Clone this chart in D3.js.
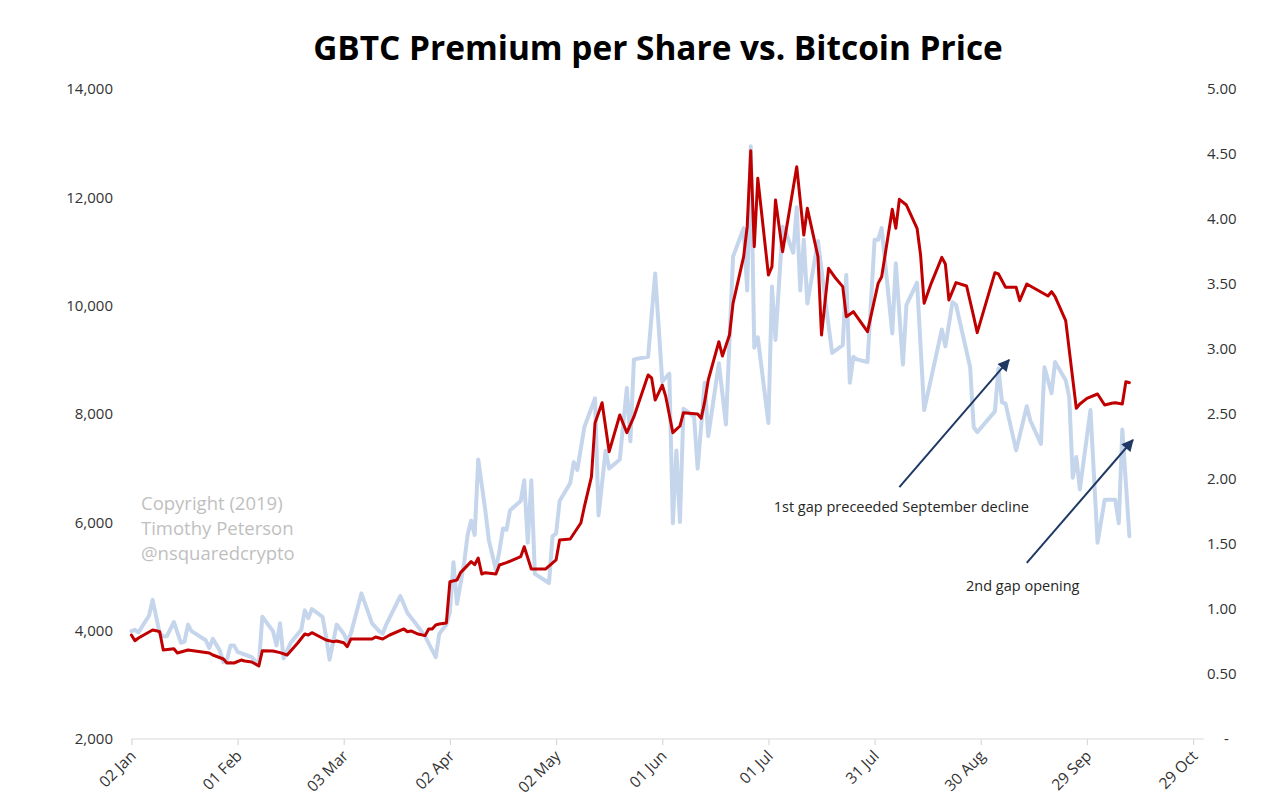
<!DOCTYPE html>
<html>
<head>
<meta charset="utf-8">
<script src="https://cdn.jsdelivr.net/npm/d3@7"></script>
<style>
  html, body { margin: 0; padding: 0; background: #ffffff; }
  svg { display: block; }
  text { font-family: "Open Sans", "Noto Sans", sans-serif; }
</style>
</head>
<body>
<svg id="chart" width="1279" height="806"></svg>
<script>
// ---------------- DATA ----------------
const titleText = "GBTC Premium per Share vs. Bitcoin Price";

const xTickDates = ["2019-01-02","2019-02-01","2019-03-03","2019-04-02","2019-05-02","2019-06-01",
                    "2019-07-01","2019-07-31","2019-08-30","2019-09-29","2019-10-29"];
const leftTicks  = [2000, 4000, 6000, 8000, 10000, 12000, 14000];
const rightTicks = [0, 0.5, 1, 1.5, 2, 2.5, 3, 3.5, 4, 4.5, 5];

// Bitcoin price (left axis, red)
const btcDates = [
 "2019-01-02","2019-01-03","2019-01-04","2019-01-08","2019-01-09","2019-01-10","2019-01-11","2019-01-14","2019-01-15","2019-01-18",
 "2019-01-20","2019-01-24","2019-01-25","2019-01-28","2019-01-29","2019-01-30","2019-01-31","2019-02-02","2019-02-03","2019-02-05",
 "2019-02-07","2019-02-08","2019-02-11","2019-02-13","2019-02-15","2019-02-18","2019-02-20","2019-02-21","2019-02-22","2019-02-26",
 "2019-02-28","2019-03-01","2019-03-03","2019-03-04","2019-03-05","2019-03-11","2019-03-12","2019-03-14","2019-03-16","2019-03-20",
 "2019-03-21","2019-03-22","2019-03-24","2019-03-26","2019-03-27","2019-03-28","2019-03-29","2019-03-30","2019-04-01","2019-04-02",
 "2019-04-04","2019-04-05","2019-04-08","2019-04-09","2019-04-10","2019-04-11","2019-04-12","2019-04-15","2019-04-16","2019-04-18",
 "2019-04-22","2019-04-23","2019-04-25","2019-04-29","2019-05-02","2019-05-03","2019-05-06","2019-05-09","2019-05-10","2019-05-12",
 "2019-05-13","2019-05-15","2019-05-17","2019-05-20","2019-05-22","2019-05-24","2019-05-28","2019-05-29","2019-05-30","2019-06-01",
 "2019-06-02","2019-06-04","2019-06-06","2019-06-07","2019-06-11","2019-06-12","2019-06-13","2019-06-14","2019-06-17","2019-06-18",
 "2019-06-20","2019-06-21","2019-06-24","2019-06-25","2019-06-26","2019-06-27","2019-06-28","2019-07-01","2019-07-02","2019-07-03",
 "2019-07-05","2019-07-09","2019-07-11","2019-07-12","2019-07-15","2019-07-16","2019-07-18","2019-07-20","2019-07-22","2019-07-23",
 "2019-07-25","2019-07-29","2019-08-01","2019-08-02","2019-08-05","2019-08-06","2019-08-07","2019-08-09","2019-08-12","2019-08-13",
 "2019-08-14","2019-08-16","2019-08-19","2019-08-20","2019-08-21","2019-08-23","2019-08-26","2019-08-28","2019-08-29","2019-09-03",
 "2019-09-04","2019-09-06","2019-09-09","2019-09-10","2019-09-12","2019-09-15","2019-09-18","2019-09-19","2019-09-20","2019-09-23",
 "2019-09-26","2019-09-27","2019-09-29","2019-10-02","2019-10-04","2019-10-06","2019-10-07","2019-10-09","2019-10-10","2019-10-11"
];
const btcValues = [
 3920,3815,3865,4012,4000,3980,3643,3667,3588,3643,
 3625,3588,3551,3477,3403,3409,3403,3458,3440,3422,
 3348,3631,3625,3594,3551,3772,3938,3920,3963,3828,
 3797,3809,3778,3705,3846,3846,3883,3846,3920,4031,
 3980,3994,3938,3908,4031,4031,4105,4123,4142,4904,
 4935,5071,5274,5218,5342,5046,5071,5046,5212,5255,
 5366,5550,5138,5138,5305,5674,5692,5988,6289,6843,
 7834,8209,7304,7982,7655,7950,8720,8665,8258,8535,
 8320,7655,7778,8025,8000,7920,8228,8628,9335,9071,
 9458,10043,10905,11458,12862,11089,12351,10566,10720,11951,
 10997,12566,11305,11797,10905,9458,10689,10505,10351,9797,
 9889,9520,10412,10535,11779,11428,11963,11858,11428,10935,
 10043,10412,10892,10769,10105,10425,10363,9797,9502,10609,
 10585,10339,10339,10092,10400,10289,10178,10258,10166,9723,
 8105,8185,8289,8369,8166,8197,8209,8185,8597,8578
];

// GBTC premium per share (right axis, light blue)
const premDates = [
 "2019-01-02","2019-01-03","2019-01-04","2019-01-07","2019-01-08","2019-01-10","2019-01-11","2019-01-12","2019-01-14","2019-01-16",
 "2019-01-17","2019-01-18","2019-01-19","2019-01-23","2019-01-24","2019-01-25","2019-01-27","2019-01-28","2019-01-29","2019-01-30",
 "2019-01-31","2019-02-01","2019-02-03","2019-02-05","2019-02-07","2019-02-08","2019-02-11","2019-02-12","2019-02-13","2019-02-14",
 "2019-02-16","2019-02-19","2019-02-20","2019-02-21","2019-02-22","2019-02-25","2019-02-26","2019-02-27","2019-03-01","2019-03-03",
 "2019-03-04","2019-03-05","2019-03-08","2019-03-11","2019-03-13","2019-03-14","2019-03-15","2019-03-19","2019-03-21","2019-03-23",
 "2019-03-26","2019-03-29","2019-03-30","2019-04-01","2019-04-02","2019-04-03","2019-04-04","2019-04-06","2019-04-07","2019-04-08",
 "2019-04-09","2019-04-10","2019-04-12","2019-04-13","2019-04-15","2019-04-16","2019-04-17","2019-04-18","2019-04-19","2019-04-22",
 "2019-04-23","2019-04-24","2019-04-25","2019-04-26","2019-04-30","2019-05-01","2019-05-02","2019-05-03","2019-05-06","2019-05-07",
 "2019-05-08","2019-05-10","2019-05-13","2019-05-14","2019-05-16","2019-05-17","2019-05-20","2019-05-22","2019-05-23","2019-05-24",
 "2019-05-28","2019-05-30","2019-06-01","2019-06-03","2019-06-04","2019-06-05","2019-06-06","2019-06-07","2019-06-10","2019-06-11",
 "2019-06-13","2019-06-14","2019-06-17","2019-06-19","2019-06-21","2019-06-24","2019-06-25","2019-06-26","2019-06-27","2019-06-28",
 "2019-07-01","2019-07-02","2019-07-03","2019-07-05","2019-07-06","2019-07-08","2019-07-09","2019-07-10","2019-07-11","2019-07-12",
 "2019-07-15","2019-07-17","2019-07-19","2019-07-22","2019-07-23","2019-07-24","2019-07-25","2019-07-26","2019-07-29","2019-07-31",
 "2019-08-01","2019-08-02","2019-08-05","2019-08-06","2019-08-08","2019-08-09","2019-08-12","2019-08-14","2019-08-19","2019-08-20",
 "2019-08-22","2019-08-23","2019-08-27","2019-08-28","2019-08-29","2019-09-03","2019-09-04","2019-09-05","2019-09-06","2019-09-09",
 "2019-09-12","2019-09-13","2019-09-16","2019-09-17","2019-09-19","2019-09-20","2019-09-23","2019-09-24","2019-09-25","2019-09-26",
 "2019-09-27","2019-09-30","2019-10-02","2019-10-04","2019-10-07","2019-10-08","2019-10-09","2019-10-11"
];
const premValues = [
 0.83,0.84,0.82,0.95,1.07,0.81,0.79,0.79,0.90,0.74,
 0.75,0.88,0.83,0.76,0.70,0.77,0.68,0.59,0.61,0.72,
 0.72,0.67,0.65,0.63,0.57,0.94,0.83,0.72,0.89,0.62,
 0.74,0.84,0.99,0.93,1.00,0.94,0.79,0.61,0.88,0.81,
 0.75,0.81,1.12,0.89,0.83,0.81,0.88,1.10,0.97,0.90,
 0.79,0.63,0.81,0.88,0.98,1.36,1.04,1.35,1.57,1.68,
 1.57,2.15,1.76,1.53,1.30,1.45,1.62,1.61,1.76,1.83,
 1.99,1.51,1.99,1.27,1.20,1.56,1.58,1.83,1.97,2.13,
 2.07,2.40,2.62,1.72,2.22,2.08,2.15,2.70,2.29,2.92,
 2.94,3.58,2.75,2.81,1.66,2.22,1.67,2.54,2.48,2.08,
 2.74,2.33,2.89,2.42,3.71,3.93,3.45,4.56,3.01,3.09,
 2.43,3.48,3.07,3.94,3.89,3.74,4.09,3.45,3.84,3.35,
 3.83,3.39,2.97,3.03,3.57,2.74,2.94,2.92,2.90,3.84,
 3.84,3.93,3.12,3.66,2.88,3.34,3.51,2.53,3.15,3.02,
 3.36,3.34,2.86,2.40,2.36,2.52,2.85,2.59,2.58,2.22,
 2.56,2.45,2.27,2.86,2.66,2.90,2.76,2.63,2.01,2.17,
 1.92,2.53,1.51,1.84,1.84,1.66,2.38,1.56
];

const copyrightLines = ["Copyright (2019)", "Timothy Peterson", "@nsquaredcrypto"];

// annotation arrows (date, bitcoin-price-axis value)
const annotationTexts = ["1st gap preceeded September decline", "2nd gap opening"];
const arrowStartDates = ["2019-08-07", "2019-09-12"];
const arrowStartValues = [6650, 5250];
const arrowEndDates = ["2019-09-07", "2019-10-12"];
const arrowEndValues = [9000, 7520];
const annotationTextValues = [6200, 4730];

// ---------------- CHART ----------------
const parse = d3.utcParse("%Y-%m-%d");
const svg = d3.select("#chart");

const x = d3.scaleUtc()
  .domain([parse("2019-01-02"), parse("2019-11-01")])
  .range([131.4, 131.4 + 303 * 3.539]);
const yL = d3.scaleLinear().domain([2000, 14000]).range([739, 89]);
const yR = d3.scaleLinear().domain([0, 5]).range([739, 89]);

const textColor = "#333333";

// Title
const title = svg.append("text")
  .attr("x", 658).attr("y", 60)
  .attr("text-anchor", "middle")
  .attr("font-size", 30).attr("font-weight", 700)
  .attr("fill", "#000")
  .text(titleText);
{
  const w = title.node().getComputedTextLength();
  title.attr("font-size", 30 * 690 / w);
}

// X axis
const xAxis = d3.axisBottom(x)
  .tickValues(xTickDates.map(parse))
  .tickSize(6)
  .tickFormat(d3.utcFormat("%d %b"));
const gx = svg.append("g").attr("transform", "translate(0,739)").call(xAxis);
gx.select(".domain").attr("stroke", "#d9d9d9").attr("stroke-width", 1.2)
  .attr("d", `M${x.range()[0]},0H${x.range()[1]}`);
gx.selectAll(".tick line").attr("stroke", "#d9d9d9").attr("stroke-width", 1.2);
gx.selectAll(".tick text")
  .attr("font-size", 15.5).attr("fill", textColor)
  .attr("font-family", "'Open Sans', sans-serif")
  .attr("text-anchor", "end")
  .attr("dy", null).attr("y", 0)
  .attr("transform", "translate(5,18) rotate(-45)");

// Left axis labels
svg.append("g").selectAll("text").data(leftTicks).join("text")
  .attr("x", 113).attr("y", d => yL(d)).attr("dy", "0.35em")
  .attr("text-anchor", "end").attr("font-size", 15).attr("fill", textColor)
  .text(d => d3.format(",")(d));

// Right axis labels
svg.append("g").selectAll("text").data(rightTicks).join("text")
  .attr("x", d => d === 0 ? 1224 : 1207).attr("y", d => yR(d)).attr("dy", "0.35em")
  .attr("text-anchor", "start").attr("font-size", 15).attr("fill", textColor)
  .text(d => d === 0 ? "-" : d3.format(".2f")(d));

// Lines
const premData = premDates.map((d, i) => ({ date: parse(d), v: premValues[i] }));
const btcData = btcDates.map((d, i) => ({ date: parse(d), v: btcValues[i] }));

svg.append("path").datum(premData)
  .attr("fill", "none").attr("stroke", "#c5d6ec").attr("stroke-width", 4)
  .attr("stroke-linejoin", "round").attr("stroke-linecap", "round")
  .attr("d", d3.line().x(d => x(d.date)).y(d => yR(d.v)));

svg.append("path").datum(btcData)
  .attr("fill", "none").attr("stroke", "#c00000").attr("stroke-width", 3)
  .attr("stroke-linejoin", "round").attr("stroke-linecap", "round")
  .attr("d", d3.line().x(d => x(d.date)).y(d => yL(d.v)));

// Copyright watermark
svg.append("g").selectAll("text").data(copyrightLines).join("text")
  .attr("x", 141).attr("y", (d, i) => 510 + i * 25)
  .attr("font-size", 18.5).attr("fill", "#bfbfbf")
  .text(d => d);

// Annotations
const defs = svg.append("defs");
defs.append("marker")
  .attr("id", "arrowhead")
  .attr("viewBox", "0 0 10 10")
  .attr("refX", 9).attr("refY", 5)
  .attr("markerWidth", 7).attr("markerHeight", 6)
  .attr("markerUnits", "strokeWidth")
  .attr("orient", "auto")
  .append("path").attr("d", "M0,0L10,5L0,10Z").attr("fill", "#1f3864");

annotationTexts.forEach((t, i) => {
  const x1 = x(parse(arrowStartDates[i])), y1 = yL(arrowStartValues[i]);
  const x2 = x(parse(arrowEndDates[i])), y2 = yL(arrowEndValues[i]);
  svg.append("line")
    .attr("x1", x1).attr("y1", y1).attr("x2", x2).attr("y2", y2)
    .attr("stroke", "#1f3864").attr("stroke-width", 2)
    .attr("marker-end", "url(#arrowhead)");
  svg.append("text")
    .attr("x", x1 + (i === 0 ? 2 : -4)).attr("y", yL(annotationTextValues[i]))
    .attr("text-anchor", "middle").attr("font-size", 14.5).attr("fill", "#262626")
    .text(t);
});
</script>
</body>
</html>
